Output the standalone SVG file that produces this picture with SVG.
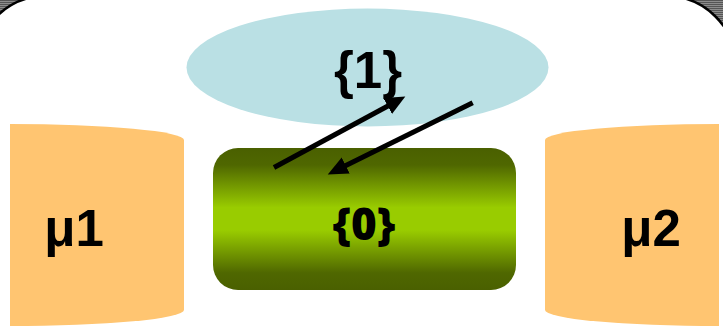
<svg xmlns="http://www.w3.org/2000/svg" width="723" height="326" viewBox="0 0 723 326">
  <defs>
    <pattern id="stripes" width="4" height="2" patternUnits="userSpaceOnUse">
      <rect width="4" height="1" fill="#555555"/>
      <rect y="1" width="4" height="1" fill="#8c8c8c"/>
    </pattern>
    <linearGradient id="green" x1="0" y1="0" x2="0" y2="1">
      <stop offset="0" stop-color="#4a6000"/>
      <stop offset="0.12" stop-color="#4f6700"/>
      <stop offset="0.42" stop-color="#99cc00"/>
      <stop offset="0.58" stop-color="#99cc00"/>
      <stop offset="0.88" stop-color="#4f6700"/>
      <stop offset="1" stop-color="#4a6000"/>
    </linearGradient>
    <marker id="head" markerUnits="userSpaceOnUse" markerWidth="22" markerHeight="20" refX="6" refY="9" orient="auto">
      <path d="M0,0 L20,9 L0,18 Z" fill="#000"/>
    </marker>
    <style>
      .lbl { font-family: "Liberation Sans", Arial, sans-serif; font-weight: bold; font-size: 51px; fill: #000; text-anchor: middle; }
      .lbl0 { font-family: "Open Sans", "Liberation Sans", sans-serif; font-weight: 800; font-size: 44px; fill: #000; text-anchor: middle; }
      .cyl { fill: #ffc571; }
      .conn { stroke: #000; stroke-width: 5; fill: none; marker-end: url(#head); }
    </style>
  </defs>

  <rect x="0" y="0" width="723" height="326" fill="url(#stripes)"/>
  <rect x="-24" y="-4" width="760" height="420" rx="70" ry="70" fill="#ffffff" stroke="#000" stroke-width="2.5"/>

  <g id="node-set1">
    <ellipse cx="367.5" cy="67.5" rx="181" ry="59" fill="#bae0e4"/>
    <text class="lbl" x="368" y="88">{1}</text>
  </g>

  <g id="node-mu1">
    <path class="cyl" d="M10,124 A174,16 0 0 1 184,140 L184,310 A174,16 0 0 1 10,326 Z"/>
    <text class="lbl" x="74" y="246">μ1</text>
  </g>

  <g id="node-mu2">
    <path class="cyl" d="M719,124 A174,16 0 0 0 545,140 L545,310 A174,16 0 0 0 719,326 Z"/>
    <text class="lbl" x="651" y="246">μ2</text>
  </g>

  <g id="node-set0">
    <rect x="213" y="148" width="303" height="142" rx="25" ry="25" fill="url(#green)"/>
    <text class="lbl0" x="364" y="240">{0}</text>
  </g>

  <g id="connectors">
    <line class="conn" x1="274" y1="167.5" x2="393" y2="103.2"/>
    <line class="conn" x1="472.7" y1="102.7" x2="340.3" y2="168.2"/>
  </g>
</svg>
